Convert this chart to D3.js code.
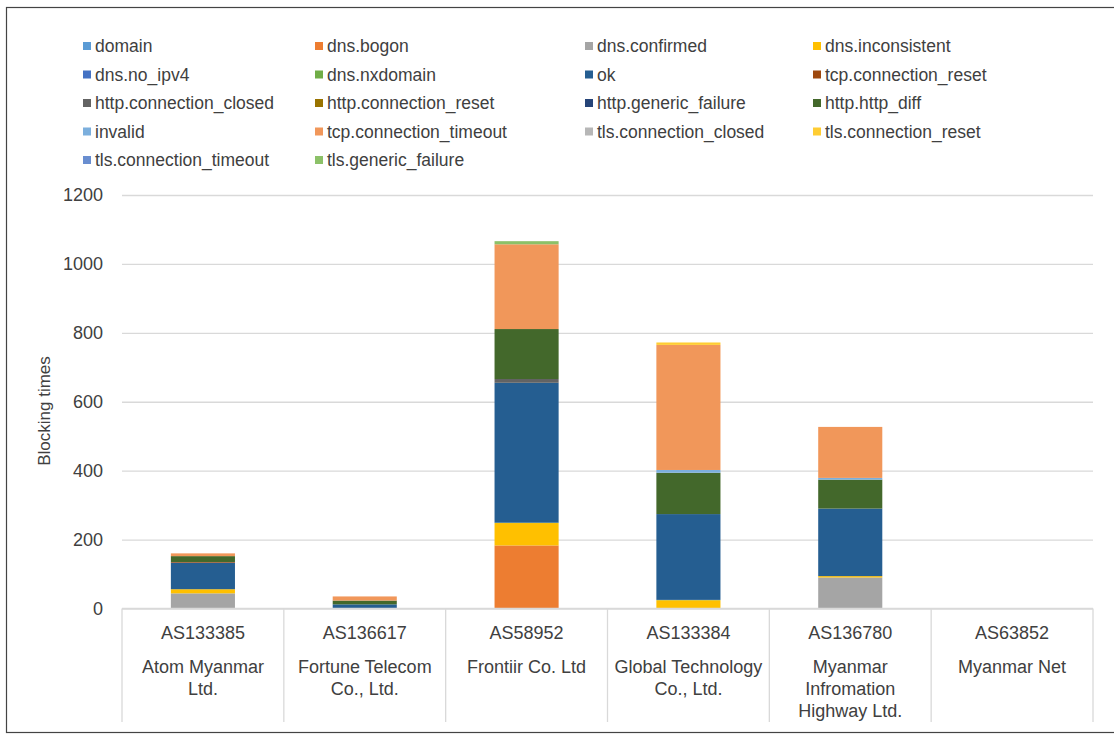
<!DOCTYPE html>
<html>
<head>
<meta charset="utf-8">
<script src="https://cdn.jsdelivr.net/npm/d3@7"></script>
<style>
  body { margin: 0; background: #fff; }
  svg text { font-family: "Liberation Sans", Arial, sans-serif; fill: #404040; }
</style>
</head>
<body>
<svg width="1114" height="734"></svg>
<script>
// categories
var asns = ["AS133385", "AS136617", "AS58952", "AS133384", "AS136780", "AS63852"]
var companies = [["Atom Myanmar", "Ltd."], ["Fortune Telecom", "Co., Ltd."], ["Frontiir Co. Ltd"],
  ["Global Technology", "Co., Ltd."], ["Myanmar", "Infromation", "Highway Ltd."], ["Myanmar Net"]]

// series (stack order bottom -> top) and colours
var seriesNames = ["domain", "dns.bogon", "dns.confirmed", "dns.inconsistent", "dns.no_ipv4", "dns.nxdomain",
  "ok", "tcp.connection_reset", "http.connection_closed", "http.connection_reset", "http.generic_failure",
  "http.http_diff", "invalid", "tcp.connection_timeout", "tls.connection_closed", "tls.connection_reset",
  "tls.connection_timeout", "tls.generic_failure"]
var seriesColors = ["#5B9BD5", "#ED7D31", "#A5A5A5", "#FFC000", "#4472C4", "#70AD47",
  "#255E91", "#9E480E", "#636363", "#997300", "#264478",
  "#43682B", "#7CAFDD", "#F1975A", "#B7B7B7", "#FFCD33",
  "#698ED0", "#8CC168"]

// values per series, one per ASN
var domainVals = [0, 0, 0, 0, 0, 0]
var dnsBogon = [0, 0, 183, 0, 0, 0]
var dnsConfirmed = [44, 0, 0, 0, 90, 0]
var dnsInconsistent = [12, 0, 65, 24, 4, 0]
var dnsNoIpv4 = [0, 0, 0, 0, 0, 0]
var dnsNxdomain = [0, 0, 1, 1, 0, 0]
var okVals = [77, 12, 406, 249, 196, 0]
var tcpConnReset = [2, 0, 0, 0, 0, 0]
var httpConnClosed = [0, 0, 11, 0, 0, 0]
var httpConnReset = [0, 0, 0, 0, 0, 0]
var httpGenericFailure = [0, 0, 0, 0, 0, 0]
var httpDiff = [17, 11, 145, 120, 84, 0]
var invalidVals = [0, 0, 0, 8, 5, 0]
var tcpConnTimeout = [8, 12, 246, 363, 148, 0]
var tlsConnClosed = [0, 0, 0, 0, 0, 0]
var tlsConnReset = [0, 0, 0, 7, 0, 0]
var tlsConnTimeout = [0, 0, 0, 0, 0, 0]
var tlsGenericFailure = [0, 0, 9, 0, 0, 0]

var yTicks = [0, 200, 400, 600, 800, 1000, 1200]

var seriesValues = [domainVals, dnsBogon, dnsConfirmed, dnsInconsistent, dnsNoIpv4, dnsNxdomain,
  okVals, tcpConnReset, httpConnClosed, httpConnReset, httpGenericFailure,
  httpDiff, invalidVals, tcpConnTimeout, tlsConnClosed, tlsConnReset, tlsConnTimeout, tlsGenericFailure]

var table = asns.map((a, i) => {
  var row = { asn: a }
  seriesNames.forEach((s, j) => row[s] = seriesValues[j][i])
  return row
})

var svg = d3.select("svg")

// outer frame
svg.append("rect").attr("x", 6.5).attr("y", 7.5).attr("width", 1130).attr("height", 725)
  .style("fill", "none").style("stroke", "#444").style("stroke-width", 1.2)

var plotLeft = 122, plotRight = 1093, plotTop = 195, plotBottom = 608.5

var x = d3.scaleBand().domain(asns).range([plotLeft, plotRight]).paddingInner(0.604).paddingOuter(0.302)
var xCat = d3.scaleBand().domain(asns).range([plotLeft, plotRight])
var y = d3.scaleLinear().domain([0, 1200]).range([plotBottom, plotTop])
var color = d3.scaleOrdinal().domain(seriesNames).range(seriesColors)

// y grid + labels
var yAxis = d3.axisLeft(y).tickValues(yTicks).tickFormat(d3.format("d"))
  .tickSize(-(plotRight - plotLeft)).tickPadding(19)
var yG = svg.append("g").attr("transform", `translate(${plotLeft},0)`).call(yAxis)
yG.select(".domain").remove()
yG.selectAll(".tick line").style("stroke", "#D9D9D9").style("stroke-width", 1.3)
yG.selectAll(".tick text").style("font-size", "18px").style("fill", "#404040")
  .style("font-family", "Liberation Sans, Arial, sans-serif")

svg.append("text").attr("transform", "translate(50,411) rotate(-90)")
  .attr("text-anchor", "middle").style("font-size", "17px").text("Blocking times")

// stacked bars
var stack = d3.stack().keys(seriesNames)(table)
svg.append("g").selectAll("g")
  .data(stack)
  .enter().append("g")
  .style("fill", d => color(d.key))
  .selectAll("rect")
  .data(d => d)
  .enter().append("rect")
  .attr("x", d => x(d.data.asn))
  .attr("width", x.bandwidth())
  .attr("y", d => y(d[1]))
  .attr("height", d => Math.max(0, y(d[0]) - y(d[1])))

// category axis: baseline and dividers
svg.append("line").attr("x1", plotLeft).attr("x2", plotRight).attr("y1", plotBottom).attr("y2", plotBottom)
  .style("stroke", "#D9D9D9").style("stroke-width", 1.3)
var bounds = asns.map(a => xCat(a)).concat([plotRight])
svg.append("g").selectAll("line").data(bounds).enter().append("line")
  .attr("x1", d => d).attr("x2", d => d).attr("y1", plotBottom).attr("y2", 722)
  .style("stroke", "#D9D9D9").style("stroke-width", 1.3)

var catG = svg.append("g").selectAll("g").data(asns).enter().append("g")
  .attr("transform", d => `translate(${xCat(d) + xCat.bandwidth() / 2},0)`)
catG.append("text").attr("y", 639).attr("text-anchor", "middle").style("font-size", "18px").text(d => d)
catG.each(function (d, i) {
  d3.select(this).selectAll(".co").data(companies[i]).enter().append("text").attr("class", "co")
    .attr("y", (t, k) => 673 + k * 22).attr("text-anchor", "middle").style("font-size", "18px").text(t => t)
})

// legend
var legCols = [83, 315, 585, 813]
var legG = svg.append("g").selectAll("g").data(seriesNames).enter().append("g")
  .attr("transform", (d, i) => `translate(${legCols[i % 4]},${46 + Math.floor(i / 4) * 28.5})`)
legG.append("rect").attr("x", 0).attr("y", -4).attr("width", 8).attr("height", 8).style("fill", d => color(d))
legG.append("text").attr("x", 12).attr("y", 6).style("font-size", "17.5px").text(d => d)
</script>
</body>
</html>
